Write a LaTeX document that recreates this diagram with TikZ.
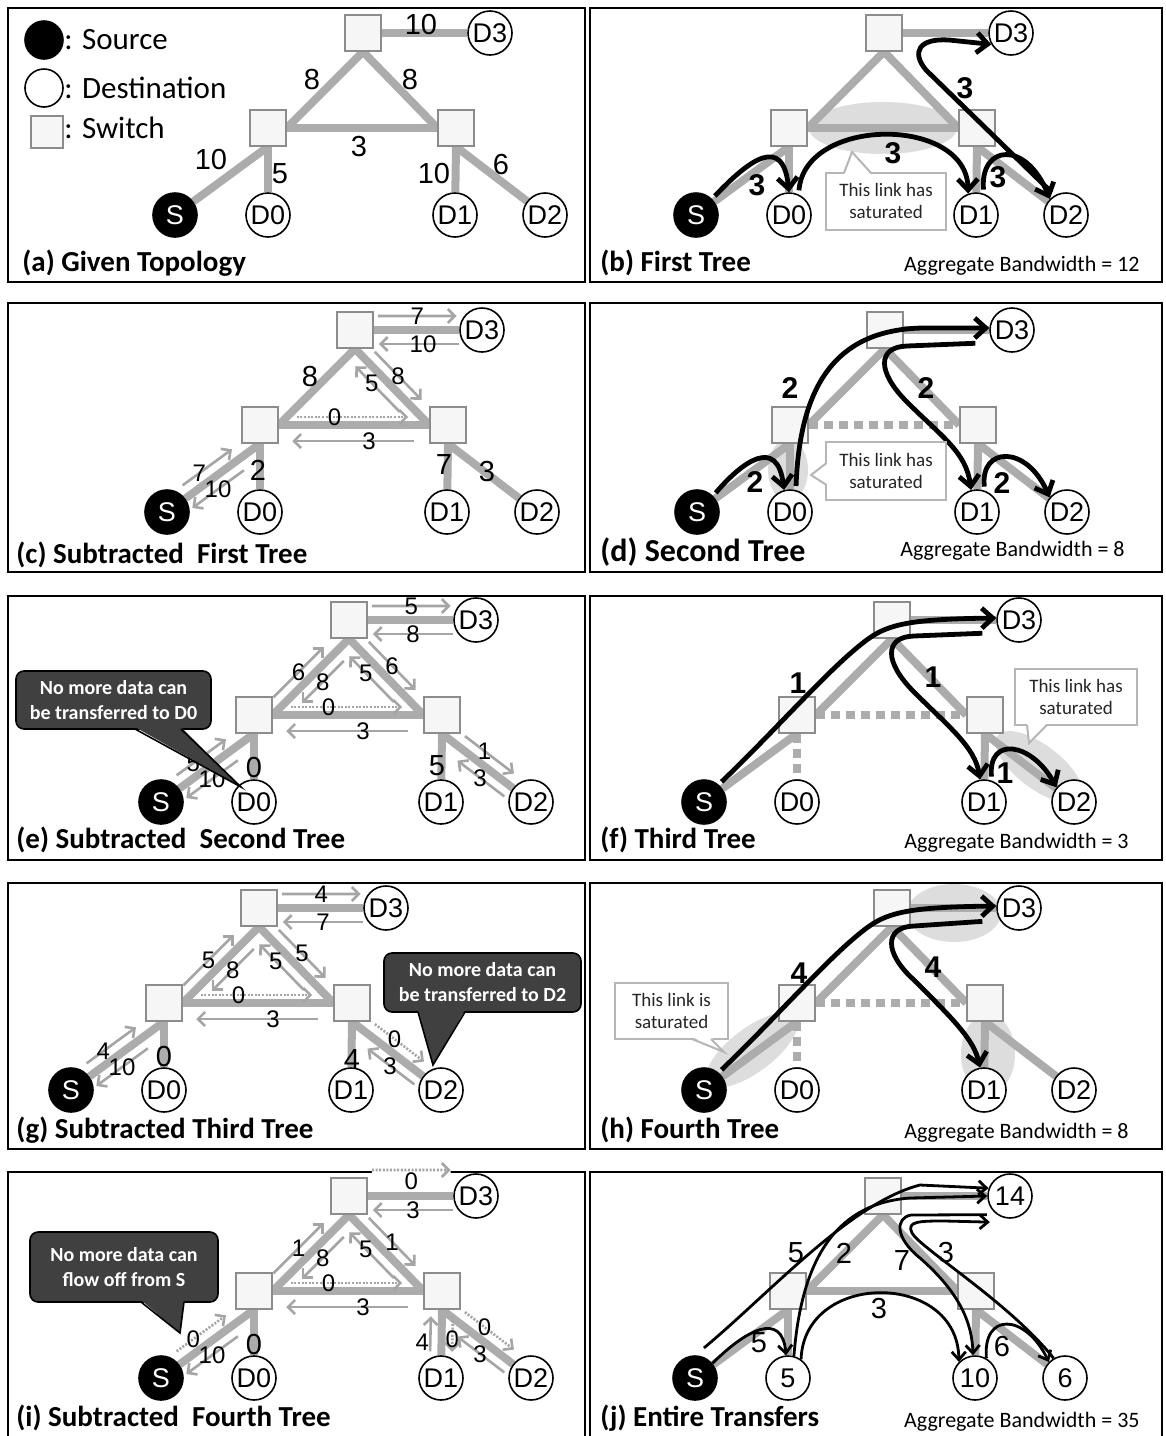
\documentclass[tikz,border=0pt]{standalone}
\usepackage{fontspec}
\setmainfont{Carlito}
\newfontfamily\arialsans{Liberation Sans}
\usetikzlibrary{arrows.meta,calc}
\definecolor{linkgray}{RGB}{172,172,172}
\definecolor{resgray}{RGB}{165,165,165}
\definecolor{glowgray}{RGB}{221,221,221}
\definecolor{swfill}{RGB}{246,246,246}
\definecolor{swdraw}{RGB}{140,140,140}
\definecolor{calldark}{RGB}{64,64,64}
\definecolor{callline}{RGB}{182,182,182}
\pgfdeclarelayer{glowlayer}
\pgfdeclarelayer{edgelayer}
\pgfsetlayers{glowlayer,edgelayer,main}
\tikzset{
  panelframe/.style={draw=black,line width=0.9pt},
  switch/.style={draw=swdraw,fill=swfill,line width=0.7pt,minimum size=18pt,inner sep=0pt},
  dest/.style={circle,draw=black,fill=white,line width=0.8pt,minimum size=22pt,inner sep=0pt,font=\arialsans\fontsize{13.5}{13}\selectfont},
  src/.style={dest,fill=black,text=white},
  link/.style={draw=linkgray,line width=4pt},
  sat/.style={link,dash pattern=on 4.5pt off 3pt},
  resarr/.style={draw=resgray,line width=1.3pt,-{Straight Barb[length=3.5pt,width=7pt]}},
  resdot/.style={dash pattern=on 1pt off 0.8pt},
  reslab/.style={font=\arialsans\fontsize{12}{12}\selectfont,inner sep=0pt},
  rlab/.style={},
  roff/.store in=\roff, roff=6pt,
  elab/.style={font=\arialsans\fontsize{14.5}{14}\selectfont,inner sep=0pt},
  flab/.style={font=\arialsans\bfseries\fontsize{15}{15}\selectfont,inner sep=0pt},
  flow/.style={draw=black,line width=2.4pt,-{Straight Barb[length=5.5pt,width=10pt]},shorten <=2pt},
  thinflow/.style={draw=black,line width=1.4pt,-{Straight Barb[length=4pt,width=7pt]}},
  glow/.style={fill=glowgray},
  note/.style={draw=callline,fill=white,line width=1pt,align=center,text=black!85,font=\fontsize{9.5}{11}\selectfont,inner sep=1pt},
  warn/.style={draw=black,fill=calldark,rounded corners=4pt,line width=0.8pt,align=center,text=white,font=\bfseries\fontsize{10}{12.5}\selectfont,inner sep=1pt},
  paneltitle/.style={anchor=west,inner sep=0pt,font=\bfseries\fontsize{14.5}{15}\selectfont},
  agg/.style={anchor=east,inner sep=0pt,font=\fontsize{11}{13}\selectfont},
  legendtext/.style={anchor=west,inner sep=0pt,font=\fontsize{15.5}{16}\selectfont},
}
% switches and end hosts of one panel
\newcommand{\topo}[5]{%
  \node[switch] (#1T) at (363,33) {};
  \node[switch] (#1L) at (268,128) {};
  \node[switch] (#1R) at (456,128) {};
  \node[dest] (#1D3) at (490,33) {#5};
  \node[src] (#1S) at (175,215) {S};
  \node[dest] (#1D0) at (268,215) {#2};
  \node[dest] (#1D1) at (455,215) {#3};
  \node[dest] (#1D2) at (545,215) {#4};
}
\newcommand{\links}[3]{%
  \begin{pgfonlayer}{edgelayer}
    \draw[link] (#1T.east) -- (#1D3);
    \draw[link] (#1L.east) -- (#1T.south) -- (#1R.west);
    \draw[#2] (#1L.east) -- (#1R.west);
    \draw[link] (#1L.south) -- (#1S);
    \draw[#3] (#1L.south) -- (#1D0);
    \draw[link] (#1R.south) -- (#1D1);
    \draw[link] (#1R.south) -- (#1D2);
  \end{pgfonlayer}}
% residual arrow beside a link, on the left of its direction
\newcommand{\resid}[7][]{%
  \draw[resarr,#1] ($(#2)!#4!(#3)!\roff!90:(#3)$) -- ($(#2)!#5!(#3)!\roff!-90:(#2)$)
    node[reslab,pos=#6,rlab] {#7};}

\begin{document}
\begin{tikzpicture}[x=0.5pt,y=-0.5pt]
\useasboundingbox (0,0) rectangle (1166,1436);
\foreach \ya/\yb in {8/282,303/572,596/860,883/1149,1172/1450} {
  \draw[panelframe] (8,\ya) rectangle (585,\yb);
  \draw[panelframe] (590,\ya) rectangle (1162,\yb);
}

% (a) given topology
\node[src,minimum size=19pt] (lgS) at (44,40) {};
\node[legendtext] (lgSt) at (64,40) {: Source};
\node[dest,minimum size=19pt] (lgD) at (44,88) {};
\node[legendtext] (lgDt) at (64,88) {: Destination};
\node[switch,minimum size=16pt] (lgW) at (47,132) {};
\node[legendtext] (lgWt) at (64,128) {: Switch};
\topo{a}{D0}{D1}{D2}{D3}
\links{a}{link}{link}
\node[elab] (aw1) at (421,25) {10};
\node[elab] (aw2) at (312,80) {8};
\node[elab] (aw3) at (410,80) {8};
\node[elab] (aw4) at (359,147) {3};
\node[elab] (aw5) at (211,160) {10};
\node[elab] (aw6) at (280,174) {5};
\node[elab] (aw7) at (434,174) {10};
\node[elab] (aw8) at (501,165) {6};

% (b) first tree
\begin{scope}[shift={(521,0)}]
\topo{b}{D0}{D1}{D2}{D3}
\links{b}{link}{link}
\begin{pgfonlayer}{glowlayer}
  \fill[glow] (362,128) ellipse [x radius=37pt,y radius=13pt];
\end{pgfonlayer}
\draw[flow] (bS.45) .. controls +(37,-39) and +(-6,-58) .. (bD0.north);
\draw[flow] (bD0.65) .. controls +(6,-78) and +(-2,-78) .. (bD1.110);
\draw[flow] (bD1.70) .. controls +(-4,-49) and +(-24,-59) .. (bD2.135);
\draw[flow] (bD2.120) -- (405,70) .. controls (390,52) and (398,38) .. (428,40) -- (bD3.210);
\node[flab] (bf1) at (236,185) {3};
\node[flab] (bf2) at (372,153) {3};
\node[flab] (bf3) at (477,177) {3};
\node[flab] (bf4) at (444,88) {3};
\node[note,minimum width=60pt,minimum height=28.5pt] (bn) at (365,201) {This link has\\saturated};
\fill[white] (323,175) -- (331,152) -- (350,175) -- cycle;
\draw[callline,line width=1pt] (323,173) -- (331,152) -- (350,173);
\end{scope}

% (c) subtracted first tree
\begin{scope}[shift={(-8,297)}]
\topo{c}{D0}{D1}{D2}{D3}
\links{c}{link}{link}
\resid[roff=7pt]{cT.east}{cD3.west}{.05}{.97}{.5}{7}
\resid[roff=7pt]{cD3.west}{cT.east}{0}{.94}{.45}{10}
\resid{cT.south}{cR.west}{.15}{.78}{.5}{8}
\resid{cR.west}{cT.south}{.28}{.88}{.63}{5}
\resid[resdot,roff=4pt]{cL.east}{cR.west}{.12}{.86}{.34}{0}
\resid[roff=8pt]{cR.west}{cL.east}{.1}{.91}{.37}{3}
\resid{cS.37}{cL.south}{.06}{.72}{.34}{7}
\resid{cL.south}{cS.37}{.31}{1}{.5}{10}
\node[elab] (cw1) at (318,80) {8};
\node[elab] (cw2) at (266,173) {2};
\node[elab] (cw3) at (452,168) {7};
\node[elab] (cw4) at (495,175) {3};
\end{scope}

% (d) second tree
\begin{scope}[shift={(522,297)}]
\topo{d}{D0}{D1}{D2}{D3}
\links{d}{sat}{link}
\begin{pgfonlayer}{glowlayer}
  \fill[glow] (266,173) ellipse [x radius=10pt,y radius=15.5pt];
\end{pgfonlayer}
\draw[flow] (dS.45) .. controls +(29,-34) and +(-7,-54) .. (dD0.105);
\draw[flow] (dD0.75) .. controls (278,80) and (320,33) .. (400,31) -- (dD3.175);
\draw[flow] ([xshift=-7pt]dD3.215) -- (385,49) .. controls (355,50) and (355,75) .. (385,105)
  .. controls (420,140) and (444,155) .. (dD1.105);
\draw[flow] (dD1.70) .. controls +(-5,-44) and +(-23,-53) .. (dD2.140);
\node[flab] (df1) at (233,185) {2};
\node[flab] (df2) at (268,91) {2};
\node[flab] (df3) at (404,91) {2};
\node[flab] (df4) at (480,186) {2};
\node[note,minimum width=60pt,minimum height=29pt] (dn) at (364,174) {This link has\\saturated};
\fill[white] (306,166) -- (289,178) -- (306,188) -- cycle;
\draw[callline,line width=1pt] (304.5,166) -- (289,178) -- (304.5,188);
\end{scope}

% (e) subtracted second tree
\begin{scope}[shift={(-14,587)}]
\topo{e}{D0}{D1}{D2}{D3}
\links{e}{link}{link}
\resid[roff=7pt]{eT.east}{eD3.west}{.05}{.97}{.5}{5}
\resid[roff=7pt]{eD3.west}{eT.east}{0}{.94}{.5}{8}
\resid{eL.east}{eT.south}{.12}{.78}{.5}{6}
\resid{eT.south}{eL.east}{.18}{.73}{.5}{8}
\resid{eT.south}{eR.west}{.15}{.78}{.5}{6}
\resid{eR.west}{eT.south}{.28}{.88}{.63}{5}
\resid[resdot,roff=4pt]{eL.east}{eR.west}{.12}{.86}{.34}{0}
\resid[roff=8pt]{eR.west}{eL.east}{.1}{.91}{.37}{3}
\resid{eS.37}{eL.south}{.06}{.72}{.34}{5}
\resid{eL.south}{eS.37}{.31}{1}{.5}{10}
\resid{eR.south}{eD2.142}{.22}{.91}{.4}{1}
\resid{eD2.142}{eR.south}{.02}{.68}{.52}{3}
\node[elab] (ew1) at (268,181) {0};
\node[elab] (ew2) at (451,179) {5};
\node[warn,minimum width=97.5pt,minimum height=29pt] (ec) at (127.5,113) {No more data can\\be transferred to D0};
\fill[calldark] (149,140) -- (255,200) -- (195,140) -- cycle;
\draw[line width=0.8pt] (149,142) -- (255,200) -- (195,142);
\end{scope}

% (f) third tree
\begin{scope}[shift={(529,587)}]
\topo{f}{D0}{D1}{D2}{D3}
\links{f}{sat}{sat}
\begin{pgfonlayer}{glowlayer}
  \fill[glow,rotate around={-37:(510,180)}] (510,180) ellipse [x radius=26pt,y radius=11pt];
\end{pgfonlayer}
\draw[flow] (fS.50) .. controls (250,140) and (310,70) .. (345,48) .. controls (365,36) and (390,32) .. (fD3.175);
\draw[flow] ([xshift=-7pt]fD3.215) -- (385,49) .. controls (355,50) and (355,75) .. (385,105)
  .. controls (420,140) and (446,160) .. (fD1.100);
\draw[flow] (fD1.70) .. controls +(-4,-45) and +(-25,-45) .. (fD2.140);
\node[flab] (ff1) at (269,96) {1};
\node[flab] (ff2) at (404,90) {1};
\node[flab] (ff3) at (476,186) {1};
\node[note,minimum width=61pt,minimum height=28pt] (fn) at (547,110) {This link has\\saturated};
\fill[white] (498,136) -- (500,156) -- (518,136) -- cycle;
\draw[callline,line width=1pt] (498,138) -- (500,156) -- (518,138);
\end{scope}

% (g) subtracted third tree
\begin{scope}[shift={(-104,875)}]
\topo{g}{D0}{D1}{D2}{D3}
\links{g}{link}{link}
\resid[roff=7pt]{gT.east}{gD3.west}{.05}{.97}{.5}{4}
\resid[roff=7pt]{gD3.west}{gT.east}{0}{.94}{.5}{7}
\resid{gL.east}{gT.south}{.12}{.78}{.5}{5}
\resid{gT.south}{gL.east}{.18}{.73}{.5}{8}
\resid{gT.south}{gR.west}{.15}{.78}{.5}{5}
\resid{gR.west}{gT.south}{.28}{.88}{.63}{5}
\resid[resdot,roff=4pt]{gL.east}{gR.west}{.12}{.86}{.34}{0}
\resid[roff=8pt]{gR.west}{gL.east}{.1}{.91}{.37}{3}
\resid{gS.37}{gL.south}{.06}{.72}{.34}{4}
\resid{gL.south}{gS.37}{.31}{1}{.5}{10}
\resid[resdot]{gR.south}{gD2.142}{.22}{.91}{.4}{0}
\resid{gD2.142}{gR.south}{.02}{.68}{.52}{3}
\node[elab] (gw1) at (268,182) {0};
\node[elab] (gw2) at (456,185) {4};
\node[warn,minimum width=98.5pt,minimum height=29.5pt] (gc) at (586.5,107.5) {No more data can\\be transferred to D2};
\fill[calldark] (522,135) -- (537,190) -- (569,135) -- cycle;
\draw[line width=0.8pt] (522,137) -- (537,190) -- (569,137);
\end{scope}

% (h) fourth tree
\begin{scope}[shift={(529,875)}]
\topo{h}{D0}{D1}{D2}{D3}
\links{h}{sat}{sat}
\begin{pgfonlayer}{glowlayer}
  \fill[glow,rotate around={37:(223,175)}] (223,175) ellipse [x radius=27.5pt,y radius=11pt];
  \fill[glow] (425,38) ellipse [x radius=23.5pt,y radius=14.5pt];
  \fill[glow] (459,179) ellipse [x radius=13.5pt,y radius=20pt];
\end{pgfonlayer}
\draw[flow] (hS.50) .. controls (250,140) and (310,70) .. (345,48) .. controls (365,36) and (390,32) .. (hD3.175);
\draw[flow] ([xshift=-7pt]hD3.215) -- (385,51) .. controls (355,52) and (355,78) .. (385,105)
  .. controls (425,145) and (445,165) .. (hD1.100);
\node[flab] (hf1) at (270,98) {4};
\node[flab] (hf2) at (404,92) {4};
\node[note,minimum width=56.5pt,minimum height=28pt] (hn) at (142.5,136) {This link is\\saturated};
\fill[white] (163,162) -- (195,177) -- (182,162) -- cycle;
\draw[callline,line width=1pt] (163,164) -- (195,177) -- (182,164);
\end{scope}

% (i) subtracted fourth tree
\begin{scope}[shift={(-14,1163)}]
\topo{i}{D0}{D1}{D2}{D3}
\links{i}{link}{link}
\resid[resdot,roff=13pt,rlab/.style={yshift=-5.5pt},preaction={draw=white,solid,line width=3pt,-}]{iT.east}{iD3.west}{.05}{.97}{.5}{0}
\resid[roff=7pt]{iD3.west}{iT.east}{0}{.94}{.5}{3}
\resid{iL.east}{iT.south}{.12}{.78}{.5}{1}
\resid{iT.south}{iL.east}{.18}{.73}{.5}{8}
\resid{iT.south}{iR.west}{.15}{.78}{.5}{1}
\resid{iR.west}{iT.south}{.28}{.88}{.63}{5}
\resid[resdot,roff=4pt]{iL.east}{iR.west}{.12}{.86}{.34}{0}
\resid[roff=8pt]{iR.west}{iL.east}{.1}{.91}{.37}{3}
\resid[resdot]{iS.37}{iL.south}{.06}{.72}{.34}{0}
\resid{iL.south}{iS.37}{.31}{1}{.5}{10}
\resid[roff=5.5pt,rlab/.style={xshift=-4pt}]{iD1.north}{iR.south}{.08}{.85}{.25}{4}
\resid[resdot,roff=5.5pt]{iR.south}{iD1.north}{.15}{.92}{.65}{0}
\resid[resdot]{iR.south}{iD2.142}{.22}{.91}{.4}{0}
\resid{iD2.142}{iR.south}{.02}{.68}{.52}{3}
\node[elab] (iw1) at (268,182) {0};
\node[warn,minimum width=94pt,minimum height=35pt] (ic) at (138,104) {No more data can\\flow off from S};
\fill[calldark] (155,137) -- (194,170) -- (198,137) -- cycle;
\draw[line width=0.8pt] (155,139) -- (194,170) -- (198,139);
\end{scope}

% (j) entire transfers
\begin{scope}[shift={(520,1163)}]
\topo{j}{5}{10}{6}{14}
\links{j}{link}{link}
\draw[thinflow] ([shift={(3,-8)}]jS.75) .. controls (250,130) and (330,40) .. (400,22) -- (jD3.160);
\draw[thinflow] (jS.40) .. controls +(33,-33) and +(-4,-45) .. (jD0.95);
\draw[thinflow] (jD0.75) .. controls (282,90) and (320,40) .. (390,35) -- (jD3.180);
\draw[thinflow] (jD0.55) .. controls +(3,-89) and +(-1,-91) .. (jD1.135);
\draw[thinflow] ([xshift=-5pt]jD3.235) -- (391,52) .. controls (375,55) and (375,75) .. (400,95)
  .. controls (440,130) and (452,160) .. (jD1.95);
\draw[thinflow] (jD2.120) .. controls (490,140) and (400,85) .. (392,70) .. controls (386,58) and (400,58) .. (425,58)
  -- ([shift={(-4,10)}]jD3.225);
\draw[thinflow] (jD1.60) .. controls +(-4,-46) and +(-24,-49) .. (jD2.135);
\node[elab] (jf1) at (276,90) {5};
\node[elab] (jf2) at (239,180) {5};
\node[elab] (jf3) at (324,90) {2};
\node[elab] (jf4) at (359,146) {3};
\node[elab] (jf5) at (382,98) {7};
\node[elab] (jf6) at (426,90) {3};
\node[elab] (jf7) at (482,184) {6};
\end{scope}

% captions
\node[paneltitle] (tita) at (22,263) {(a) Given Topology};
\node[paneltitle] (titb) at (600,263) {(b) First Tree};
\node[paneltitle] (titc) at (16,555) {(c) Subtracted~ First Tree};
\node[paneltitle,font=\bfseries\fontsize{16}{16}\selectfont] (titd) at (600,552) {(d) Second Tree};
\node[paneltitle] (tite) at (16,840) {(e) Subtracted~ Second Tree};
\node[paneltitle] (titf) at (600,840) {(f) Third Tree};
\node[paneltitle] (titg) at (16,1130) {(g) Subtracted Third Tree};
\node[paneltitle] (tith) at (600,1130) {(h) Fourth Tree};
\node[paneltitle] (titi) at (16,1418) {(i) Subtracted~ Fourth Tree};
\node[paneltitle] (titj) at (600,1418) {(j) Entire Transfers};
\node[agg] (aggb) at (1140,266) {Aggregate Bandwidth = 12};
\node[agg] (aggd) at (1125,551) {Aggregate Bandwidth = 8};
\node[agg] (aggf) at (1129,843) {Aggregate Bandwidth = 3};
\node[agg] (aggh) at (1129,1133) {Aggregate Bandwidth = 8};
\node[agg] (aggj) at (1140,1422) {Aggregate Bandwidth = 35};
\end{tikzpicture}
\end{document}
